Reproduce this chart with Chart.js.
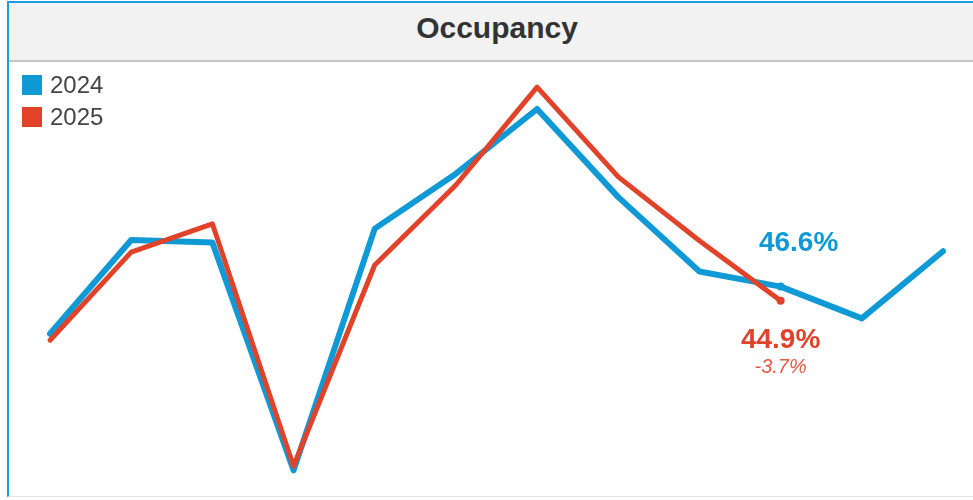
<!DOCTYPE html>
<html>
<head>
<meta charset="utf-8">
<script src="https://cdn.jsdelivr.net/npm/chart.js@4/dist/chart.umd.min.js"></script>
<style>
  html, body { margin: 0; padding: 0; background: #fff; }
  body { width: 973px; height: 500px; position: relative; overflow: hidden; font-family: "Liberation Sans", Arial, sans-serif; }
  #frame { position: absolute; left: 7px; top: 1px; width: 990px; height: 496px; border-top: 2px solid #1a9fdc; border-left: 2px solid #1a9fdc; border-bottom: 1px solid #e6e6e6; box-sizing: border-box; overflow: hidden; }
  #titlebar { position: absolute; left: 0; top: 0; width: 100%; height: 57px; background: #f2f2f2; border-bottom: 2px solid #c4c4c4; }
  #titlebar h1 { margin: 0; position: absolute; left: 0; width: 976px; top: 8px; text-align: center; font-size: 30px; font-weight: bold; color: #333; }
  #legend { position: absolute; left: 13px; top: 66px; z-index: 2; }
  .item { display: flex; align-items: center; height: 32px; font-size: 24px; color: #444; }
  .swatch { width: 20px; height: 20px; margin-right: 8px; }
  #wrap { position: absolute; left: 2px; top: 59px; width: 964px; height: 434px; }
</style>
</head>
<body>
<div id="frame">
  <div id="titlebar"><h1>Occupancy</h1></div>
  <div id="legend"></div>
  <div id="wrap"><canvas id="c"></canvas></div>
</div>
<script>
// Monthly occupancy (%), Jan..Dec
const months = ['Jan','Feb','Mar','Apr','May','Jun','Jul','Aug','Sep','Oct','Nov','Dec'];
const occ2024 = [40.8, 52.4, 52.1, 23.9, 53.8, 60.6, 68.6, 57.7, 48.5, 46.63, 42.7, 51.0];
const occ2025 = [40.0, 50.9, 54.4, 24.4, 49.3, 59.2, 71.3, 60.2, 52.3, 44.89];
const seriesNames = ['2024', '2025'];
const seriesColors = ['#0f9ad6', '#e0432a'];

const lastIdx = occ2025.length - 1;
const dotRadius = (arr) => arr.map((_, i) => (i === lastIdx ? 4 : 0));

// Value labels at the latest month of the current year
const valueLabels = {
  id: 'valueLabels',
  afterDatasetsDraw(chart) {
    const ctx = chart.ctx;
    const p24 = chart.getDatasetMeta(0).data[lastIdx];
    const p25 = chart.getDatasetMeta(1).data[lastIdx];
    const v24 = occ2024[lastIdx], v25 = occ2025[lastIdx];
    const change = (v25 / v24 - 1) * 100;
    ctx.save();
    ctx.textAlign = 'center';
    ctx.textBaseline = 'middle';
    ctx.font = 'bold 28px "Liberation Sans", Arial, sans-serif';
    ctx.fillStyle = seriesColors[0];
    ctx.fillText(v24.toFixed(1) + '%', p24.x + 18, p24.y - 43);
    ctx.fillStyle = seriesColors[1];
    ctx.fillText(v25.toFixed(1) + '%', p25.x, p25.y + 40);
    ctx.font = 'italic 20px "Liberation Sans", Arial, sans-serif';
    ctx.fillStyle = '#e35a44';
    ctx.fillText(change.toFixed(1) + '%', p25.x, p25.y + 67);
    ctx.restore();
  }
};

const chart = new Chart(document.getElementById('c'), {
  type: 'line',
  data: {
    labels: months,
    datasets: [
      { label: seriesNames[0], data: occ2024, borderColor: seriesColors[0], backgroundColor: seriesColors[0],
        borderWidth: 6, pointRadius: dotRadius(occ2024), pointHoverRadius: 0, pointBorderWidth: 0, tension: 0, clip: false,
        borderCapStyle: 'round', borderJoinStyle: 'round', order: 2 },
      { label: seriesNames[1], data: occ2025, borderColor: seriesColors[1], backgroundColor: seriesColors[1],
        borderWidth: 5, pointRadius: dotRadius(occ2025), pointHoverRadius: 0, pointBorderWidth: 0, tension: 0, clip: false,
        borderCapStyle: 'round', borderJoinStyle: 'round', order: 1 }
    ]
  },
  options: {
    responsive: true,
    maintainAspectRatio: false,
    animation: false,
    events: [],
    layout: { padding: { left: 39, right: 32, top: 0, bottom: 0 } },
    plugins: { legend: { display: false }, title: { display: false }, tooltip: { enabled: false } },
    scales: {
      x: { display: false, offset: false },
      y: { display: false, min: 21.22, max: 73.92 }
    }
  },
  plugins: [valueLabels]
});

// HTML legend built from the chart's datasets
const legend = document.getElementById('legend');
chart.data.datasets.forEach(ds => {
  const row = document.createElement('div');
  row.className = 'item';
  const sw = document.createElement('span');
  sw.className = 'swatch';
  sw.style.background = ds.borderColor;
  row.appendChild(sw);
  row.appendChild(document.createTextNode(ds.label));
  legend.appendChild(row);
});
</script>
</body>
</html>
